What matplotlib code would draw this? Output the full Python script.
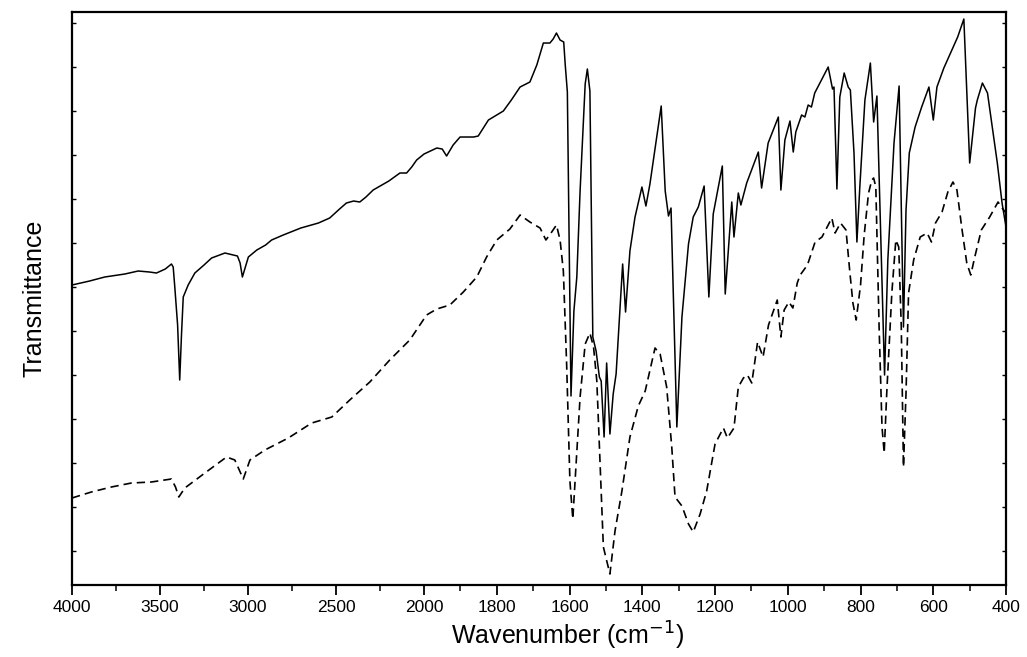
import numpy as np
import matplotlib
matplotlib.use("Agg")
import matplotlib.pyplot as plt
from matplotlib.ticker import FixedLocator, MultipleLocator, NullFormatter

# ---- data (wavenumber in cm-1, transmittance in arbitrary units) ----
wn_solid = [4000, 3900, 3814, 3700, 3624, 3560, 3520, 3470, 3435, 3425, 3416, 3400, 3388, 3378, 3368,
            3340, 3302, 3250, 3207, 3131, 3084, 3060, 3045, 3032, 3015, 2998, 2950, 2900, 2866, 2800,
            2700, 2600, 2536, 2480, 2441, 2400, 2365, 2330, 2289, 2200, 2137, 2099, 2070, 2042, 2000,
            1965, 1950, 1938, 1920, 1901, 1864, 1851, 1823, 1782, 1760, 1736, 1709, 1690, 1672, 1654,
            1645, 1636, 1626, 1616, 1612, 1606, 1596, 1588, 1580, 1571, 1557, 1551, 1544, 1536, 1527,
            1518, 1513, 1505, 1498, 1489, 1480, 1472, 1454, 1446, 1434, 1420, 1401, 1390, 1379, 1348,
            1337, 1328, 1321, 1305, 1291, 1273, 1260, 1246, 1230, 1217, 1205, 1180, 1172, 1154, 1148,
            1136, 1129, 1113, 1081, 1072, 1054, 1026, 1019, 1008, 994, 985, 978, 962, 953, 944,
            935, 926, 889, 877, 873, 865, 857, 845, 834, 828, 818, 810, 802, 788, 773,
            764, 755, 745, 734, 725, 708, 694, 687, 682, 675, 666, 650, 632, 612, 600,
            590, 571, 533, 516, 500, 484, 479, 465, 451, 424, 411, 400]
t_solid = [300, 304, 308, 311, 314, 313, 312, 316, 321, 318, 298, 260, 205, 250, 288,
           300, 312, 320, 327, 332, 330, 329, 322, 308, 318, 328, 335, 340, 345, 350,
           357, 362, 367, 376, 382, 384, 383, 388, 395, 404, 412, 412, 418, 425, 431,
           437, 436, 429, 440, 448, 448, 449, 465, 474, 485, 498, 503, 520, 542, 542,
           546, 552, 545, 543, 521, 493, 189, 274, 308, 394, 501, 516, 494, 248, 234,
           208, 204, 148, 222, 151, 191, 211, 321, 273, 334, 368, 398, 379, 401, 479,
           394, 369, 377, 158, 268, 341, 368, 378, 399, 288, 371, 419, 291, 383, 348,
           392, 380, 402, 433, 397, 442, 468, 395, 445, 464, 433, 453, 470, 468, 480,
           478, 492, 518, 496, 498, 396, 488, 512, 498, 495, 432, 343, 398, 485, 522,
           463, 489, 358, 210, 325, 442, 499, 358, 258, 375, 432, 458, 478, 498, 465,
           498, 517, 548, 566, 422, 477, 485, 502, 492, 422, 382, 358]

wn_dash = [4000, 3890, 3776, 3662, 3549, 3435, 3412, 3393, 3359, 3245, 3122, 3075, 3050, 3027, 2989,
           2904, 2771, 2638, 2524, 2422, 2308, 2195, 2081, 1993, 1965, 1929, 1892, 1855, 1828, 1800,
           1764, 1736, 1709, 1681, 1665, 1649, 1636, 1626, 1617, 1608, 1599, 1591, 1582, 1571, 1557,
           1544, 1534, 1525, 1516, 1507, 1489, 1475, 1456, 1434, 1411, 1392, 1365, 1351, 1333, 1319,
           1310, 1291, 1273, 1260, 1241, 1223, 1200, 1177, 1166, 1148, 1136, 1122, 1111, 1099, 1083,
           1068, 1053, 1029, 1019, 1010, 997, 986, 974, 966, 946, 925, 906, 879, 870, 855,
           840, 830, 821, 812, 800, 790, 778, 769, 764, 758, 749, 741, 735, 728, 714,
           703, 695, 688, 682, 675, 668, 654, 636, 617, 605, 594, 576, 560, 546, 535,
           522, 508, 497, 486, 468, 445, 422, 413, 400]
t_dash = [87, 93, 98, 102, 103, 106, 98, 88, 97, 112, 128, 125, 115, 106, 125,
          135, 147, 162, 168, 185, 203, 225, 245, 270, 276, 280, 293, 308, 328, 345,
          356, 370, 363, 357, 345, 353, 360, 345, 314, 221, 104, 66, 121, 188, 241,
          252, 238, 204, 121, 38, 11, 54, 94, 148, 179, 194, 237, 231, 198, 138,
          88, 79, 61, 53, 71, 94, 141, 157, 147, 157, 198, 207, 210, 202, 243,
          228, 260, 285, 248, 275, 283, 277, 302, 310, 320, 343, 348, 367, 352, 362,
          355, 315, 282, 265, 300, 350, 392, 405, 407, 398, 258, 158, 132, 192, 292,
          345, 338, 258, 118, 192, 292, 325, 348, 352, 343, 362, 373, 393, 403, 395,
          358, 322, 310, 328, 355, 368, 383, 378, 372]

major_ticks = [4000, 3500, 3000, 2500, 2000, 1800, 1600, 1400, 1200, 1000, 800, 600, 400]
minor_ticks = [3750, 3250, 2750, 2250, 1900, 1700, 1500, 1300, 1100, 900, 700, 500]

# ---- split x scale: above 2000 cm-1 compressed ----
RATIO = 0.4839


def fwd(w):
    w = np.asarray(w, dtype=float)
    return np.where(w <= 2000, w, 2000 + (w - 2000) * RATIO)


def inv(u):
    u = np.asarray(u, dtype=float)
    return np.where(u <= 2000, u, 2000 + (u - 2000) / RATIO)


plt.rcParams['font.family'] = ['Liberation Sans', 'DejaVu Sans']

fig = plt.figure(figsize=(10.27, 6.57), dpi=100)
ax = fig.add_axes([0.0701, 0.1096, 0.9095, 0.8721])

ax.plot(wn_solid, t_solid, color='black', lw=1.1, solid_joinstyle='round')
ax.plot(wn_dash, t_dash, color='black', lw=1.2, linestyle=(0, (5, 3)))

ax.set_xscale('function', functions=(fwd, inv))
ax.set_xlim(4000, 400)
ax.set_ylim(0, 573)

ax.xaxis.set_major_locator(FixedLocator(major_ticks))
ax.xaxis.set_minor_locator(FixedLocator(minor_ticks))
ax.xaxis.set_minor_formatter(NullFormatter())
ax.set_xticklabels([str(t) for t in major_ticks])
ax.tick_params(axis='x', which='major', direction='out', length=7, width=1.3,
               labelsize=12.5, pad=4, top=False)
ax.tick_params(axis='x', which='minor', direction='out', length=4, width=1.1, top=False)

ax.yaxis.set_major_locator(MultipleLocator(44, offset=34))
ax.tick_params(axis='y', which='major', direction='in', length=3, width=1.0,
               left=True, right=True, labelleft=False, labelright=False)

for s in ax.spines.values():
    s.set_linewidth(1.6)

ax.set_xlabel('Wavenumber (cm$^{-1}$)', fontsize=18, labelpad=2)
ax.xaxis.set_label_coords(0.53, -0.06)
ax.set_ylabel('Transmittance', fontsize=18, labelpad=18)

fig.savefig('out.png', dpi=100)
